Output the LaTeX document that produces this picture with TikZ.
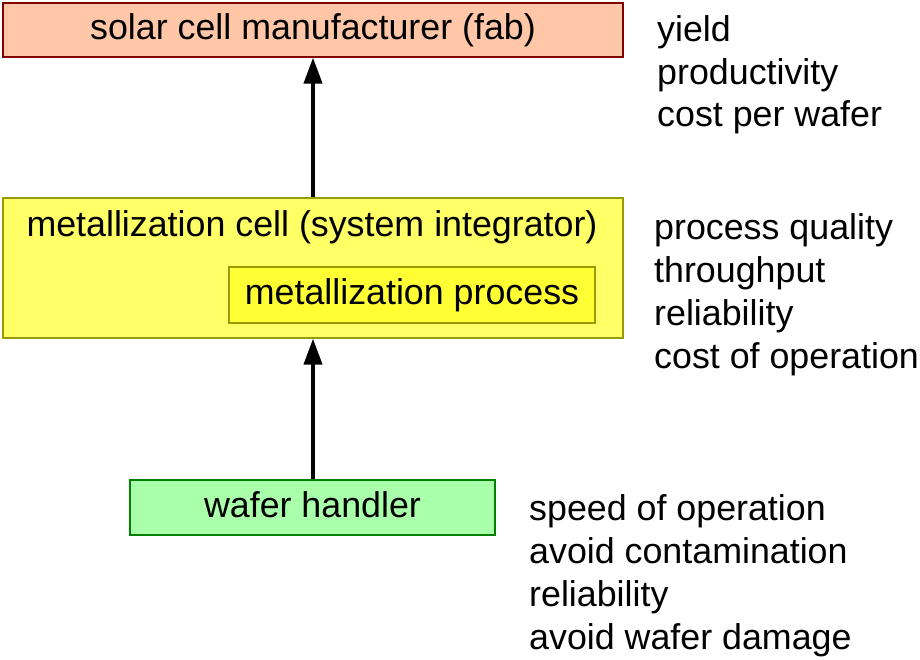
\documentclass[tikz,border=0pt]{standalone}
\usepackage{fontspec}
\setmainfont{Liberation Sans}
\usetikzlibrary{arrows.meta}
\definecolor{fabfill}{HTML}{FFC6A8}
\definecolor{fabdraw}{HTML}{800000}
\definecolor{cellfill}{HTML}{FFFF66}
\definecolor{celldraw}{HTML}{999900}
\definecolor{procfill}{HTML}{FFFF33}
\definecolor{handfill}{HTML}{AAFFAA}
\definecolor{handdraw}{HTML}{008000}
\tikzset{
  box/.style={rectangle, line width=1.2pt, inner sep=0pt, font=\fontsize{35.8}{42.8}\selectfont},
  lbl/.style={inner sep=0pt, align=left, anchor=base west, font=\fontsize{35.8}{42.8}\selectfont},
  ttl/.style={inner sep=0pt, font=\fontsize{35.8}{42.8}\selectfont},
  flow/.style={line width=4pt, -{Triangle[length=26pt,width=18pt]}}
}
\begin{document}
\begin{tikzpicture}[x=1pt,y=-1pt]
\useasboundingbox (0,0) rectangle (920,660);
% boxes
\node[box, fill=fabfill, draw=fabdraw, minimum width=620pt, minimum height=54pt] (fab) at (313,30) {solar cell manufacturer (fab)};
\node[box, fill=cellfill, draw=celldraw, minimum width=620pt, minimum height=140pt] (cell) at (313,268) {};
\node[ttl] (celltitle) at (312,227) {metallization cell (system integrator)};
\node[box, fill=procfill, draw=celldraw, minimum width=366pt, minimum height=56pt] (proc) at (412,295) {metallization process};
\node[box, fill=handfill, draw=handdraw, minimum width=365pt, minimum height=55pt] (hand) at (312.5,507.5) {};
\node[ttl] (handtitle) at (312.5,505) {wafer handler};
% arrows
\draw[flow] (cell.north -| fab.south) -- (fab.south);
\draw[flow] (hand.north -| cell.south) -- (cell.south);
% labels (anchor on the baseline of the last line)
\node[lbl] (fabl) at (657,127) {yield\\productivity\\cost per wafer};
\node[lbl] (celll) at (654,368) {process quality\\throughput\\reliability\\cost of operation};
\node[lbl] (handl) at (529,649) {speed of operation\\avoid contamination\\reliability\\avoid wafer damage};
\end{tikzpicture}
\end{document}
